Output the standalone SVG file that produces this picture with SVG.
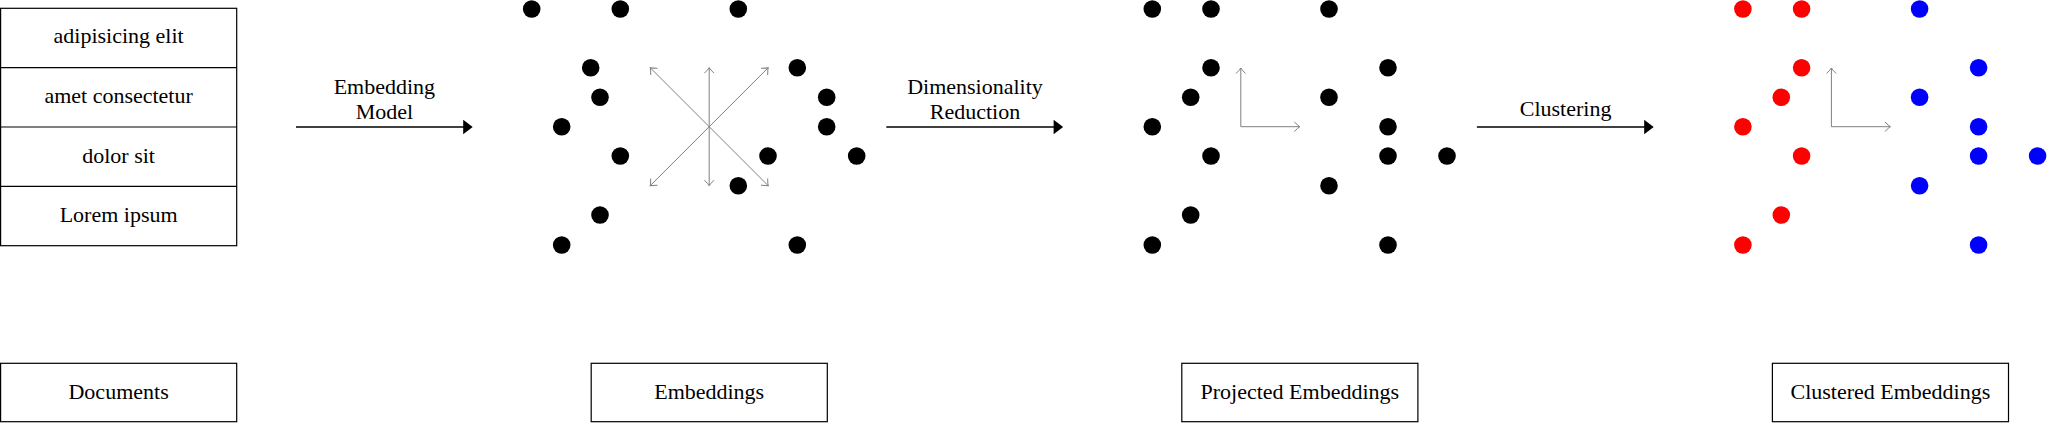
<svg xmlns="http://www.w3.org/2000/svg" width="2047" height="423" viewBox="0 0 2047 423">
  <style>
    .box { fill: #ffffff; stroke: #000000; stroke-width: 1.2; }
    .div { stroke: #000000; stroke-width: 1.2; }
    .txt { font-family: "Liberation Serif", "Times New Roman", serif; font-size: 22px; fill: #000000; text-anchor: middle; }
    .dot { fill: #000000; }
    .red { fill: #ff0000; }
    .blue { fill: #0000ff; }
    .axis { stroke: #808080; stroke-width: 1; fill: none; marker-end: url(#to); }
    .dbl { stroke: #808080; stroke-width: 1; fill: none; marker-start: url(#to); marker-end: url(#to); }
    .flow { stroke: #000000; stroke-width: 1.3; fill: none; marker-end: url(#tri); }
  </style>
  <defs>
    <marker id="to" markerUnits="userSpaceOnUse" markerWidth="14" markerHeight="14" viewBox="-7 -7 14 14" refX="0" refY="0" orient="auto-start-reverse" overflow="visible">
      <path d="M -5.5 -4.8 Q -2 -1.2 0 0 Q -2 1.2 -5.5 4.8" fill="none" stroke="#808080" stroke-width="1"/>
    </marker>
    <marker id="tri" markerUnits="userSpaceOnUse" markerWidth="20" markerHeight="20" viewBox="-10 -10 20 20" refX="0" refY="0" orient="auto" overflow="visible">
      <path d="M -4.5 -7.3 L 5 0 L -4.5 7.3 Z" fill="#000000"/>
    </marker>
  </defs>

  <g id="documents">
    <rect class="box" x="0.6" y="8.3" width="236.1" height="237.4"/>
    <line class="div" x1="0.6" y1="67.6" x2="236.7" y2="67.6"/>
    <line class="div" x1="0.6" y1="127" x2="236.7" y2="127"/>
    <line class="div" x1="0.6" y1="186.4" x2="236.7" y2="186.4"/>
    <text class="txt" x="118.6" y="43.4">adipisicing elit</text>
    <text class="txt" x="118.6" y="103">amet consectetur</text>
    <text class="txt" x="118.6" y="162.5">dolor sit</text>
    <text class="txt" x="118.6" y="221.8">Lorem ipsum</text>
  </g>

  <g id="documents-label">
    <rect class="box" x="0.6" y="363.3" width="236.1" height="58.4"/>
    <text class="txt" x="118.6" y="399">Documents</text>
  </g>

  <g id="embeddings">
    <line class="dbl" x1="650.2" y1="67.7" x2="768.2" y2="185.7"/>
    <line class="dbl" x1="768.2" y1="67.7" x2="650.2" y2="185.7"/>
    <line class="dbl" x1="709.2" y1="67.7" x2="709.2" y2="185.7"/>
    <circle class="dot" cx="531.7" cy="9" r="8.8"/>
    <circle class="dot" cx="620.3" cy="9" r="8.8"/>
    <circle class="dot" cx="738.3" cy="9" r="8.8"/>
    <circle class="dot" cx="590.7" cy="67.7" r="8.8"/>
    <circle class="dot" cx="600" cy="97.3" r="8.8"/>
    <circle class="dot" cx="561.7" cy="126.7" r="8.8"/>
    <circle class="dot" cx="620.3" cy="156" r="8.8"/>
    <circle class="dot" cx="600" cy="215" r="8.8"/>
    <circle class="dot" cx="561.7" cy="245" r="8.8"/>
    <circle class="dot" cx="797.3" cy="67.7" r="8.8"/>
    <circle class="dot" cx="826.7" cy="97.3" r="8.8"/>
    <circle class="dot" cx="826.7" cy="126.7" r="8.8"/>
    <circle class="dot" cx="768" cy="156" r="8.8"/>
    <circle class="dot" cx="856.7" cy="156" r="8.8"/>
    <circle class="dot" cx="738.3" cy="185.7" r="8.8"/>
    <circle class="dot" cx="797.3" cy="245" r="8.8"/>
  </g>

  <g id="embeddings-label">
    <rect class="box" x="591.2" y="363.3" width="236.1" height="58.4"/>
    <text class="txt" x="709.2" y="399">Embeddings</text>
  </g>

  <g id="projected-embeddings">
    <line class="axis" x1="1240.8" y1="126.7" x2="1240.8" y2="68"/>
    <line class="axis" x1="1240.8" y1="126.7" x2="1299.8" y2="126.7"/>
    <circle class="dot" cx="1152.3" cy="9" r="8.8"/>
    <circle class="dot" cx="1211" cy="9" r="8.8"/>
    <circle class="dot" cx="1329" cy="9" r="8.8"/>
    <circle class="dot" cx="1211" cy="67.7" r="8.8"/>
    <circle class="dot" cx="1190.7" cy="97.3" r="8.8"/>
    <circle class="dot" cx="1152.3" cy="126.7" r="8.8"/>
    <circle class="dot" cx="1211" cy="156" r="8.8"/>
    <circle class="dot" cx="1190.7" cy="215" r="8.8"/>
    <circle class="dot" cx="1152.3" cy="245" r="8.8"/>
    <circle class="dot" cx="1388" cy="67.7" r="8.8"/>
    <circle class="dot" cx="1329" cy="97.3" r="8.8"/>
    <circle class="dot" cx="1388" cy="126.7" r="8.8"/>
    <circle class="dot" cx="1388" cy="156" r="8.8"/>
    <circle class="dot" cx="1447" cy="156" r="8.8"/>
    <circle class="dot" cx="1329" cy="185.7" r="8.8"/>
    <circle class="dot" cx="1388" cy="245" r="8.8"/>
  </g>

  <g id="projected-label">
    <rect class="box" x="1181.8" y="363.3" width="236.1" height="58.4"/>
    <text class="txt" x="1299.8" y="399">Projected Embeddings</text>
  </g>

  <g id="clustered-embeddings">
    <line class="axis" x1="1831.4" y1="126.7" x2="1831.4" y2="68"/>
    <line class="axis" x1="1831.4" y1="126.7" x2="1890.4" y2="126.7"/>
    <circle class="red" cx="1742.9" cy="9" r="8.8"/>
    <circle class="red" cx="1801.6" cy="9" r="8.8"/>
    <circle class="red" cx="1801.6" cy="67.7" r="8.8"/>
    <circle class="red" cx="1781.3" cy="97.3" r="8.8"/>
    <circle class="red" cx="1742.9" cy="126.7" r="8.8"/>
    <circle class="red" cx="1801.6" cy="156" r="8.8"/>
    <circle class="red" cx="1781.3" cy="215" r="8.8"/>
    <circle class="red" cx="1742.9" cy="245" r="8.8"/>
    <circle class="blue" cx="1919.6" cy="9" r="8.8"/>
    <circle class="blue" cx="1978.6" cy="67.7" r="8.8"/>
    <circle class="blue" cx="1919.6" cy="97.3" r="8.8"/>
    <circle class="blue" cx="1978.6" cy="126.7" r="8.8"/>
    <circle class="blue" cx="1978.6" cy="156" r="8.8"/>
    <circle class="blue" cx="2037.6" cy="156" r="8.8"/>
    <circle class="blue" cx="1919.6" cy="185.7" r="8.8"/>
    <circle class="blue" cx="1978.6" cy="245" r="8.8"/>
  </g>

  <g id="clustered-label">
    <rect class="box" x="1772.4" y="363.3" width="236.1" height="58.4"/>
    <text class="txt" x="1890.4" y="399">Clustered Embeddings</text>
  </g>

  <g id="connectors">
    <line class="flow" x1="296" y1="127" x2="467.7" y2="127"/>
    <text class="txt" x="384.4" y="94.3">Embedding</text>
    <text class="txt" x="384.4" y="119">Model</text>
    <line class="flow" x1="886.3" y1="127" x2="1058.1" y2="127"/>
    <text class="txt" x="975" y="94.3">Dimensionality</text>
    <text class="txt" x="975" y="119">Reduction</text>
    <line class="flow" x1="1476.9" y1="127" x2="1648.7" y2="127"/>
    <text class="txt" x="1565.6" y="116">Clustering</text>
  </g>
</svg>
